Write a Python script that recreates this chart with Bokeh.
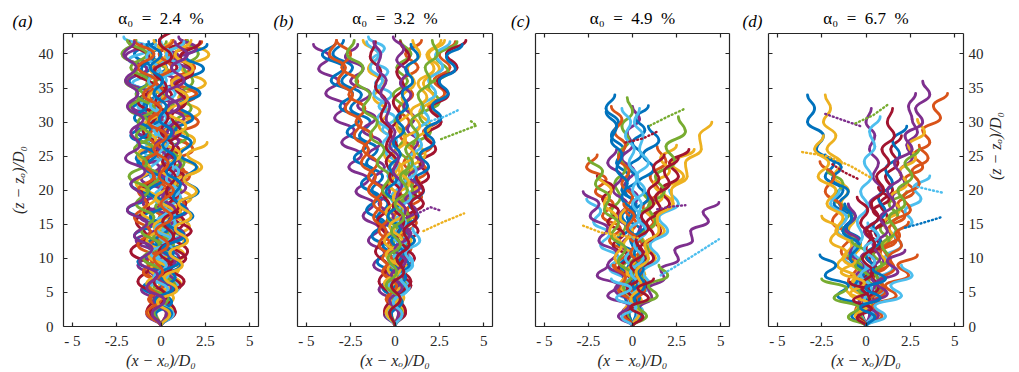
import math
from bokeh.plotting import figure
from bokeh.layouts import row, column
from bokeh.models import Range1d, FixedTicker, LinearAxis, ColumnDataSource
from bokeh.core.properties import value
from bokeh.embed import file_html
from bokeh.resources import INLINE

# MATLAB default line colour order
COLORS = ["#0072BD", "#D95319", "#EDB120", "#7E2F8E", "#77AC30", "#4DBEEE", "#A2142F"]

X_TICKS = [-5, -2.5, 0, 2.5, 5]
X_TICK_TEXT = {-5: "- 5", -2.5: "-2.5", 0: "0", 2.5: "2.5", 5: "5"}
Z_TICKS = [0, 5, 10, 15, 20, 25, 30, 35, 40]
VOID_FRACTION = ["2.4", "3.2", "4.9", "6.7"]
PANEL_TAGS = ["(a)", "(b)", "(c)", "(d)"]

# Bubble tracks: (height of first turning point, vertical spacing of turning points,
# lateral positions (x - x_o)/D_0 at successive turning points of the zig-zag)
tracks_a = [
    (0, 2.0, [0, .5, -.4, .7, -.5, .4, -.8, .3, -1.0, .1, -1.2, 0, -1.3, -.2, -1.7, -.4, -1.6, -.3, -1.8, -.6, -1.5, -.3]),
    (0, 1.9, [0, -.5, .4, -.7, .3, -.8, .6, -.4, .9, -.3, 1.0, -.1, 1.3, 0, 1.5, .3, 1.6, .4, 2.0, .6, 1.9, .7, 2.3]),
    (0, 2.1, [0, .7, -.1, 1.1, .1, 1.3, .3, 1.6, .4, 1.7, .6, 2.1, .9, 1.9, .7, 2.2, 1.0, 2.5, 1.2, 2.7, 1.4]),
    (0, 1.8, [0, -.8, -.1, -1.1, -.3, -1.3, -.4, -1.4, -.3, -1.2, 0, -1.0, .1, -.9, .3, -.7, .4, -.6, .7, -.4, .9, -.3, 1.0, -.1]),
    (0, 2.2, [0, .4, -.6, .3, -.7, .6, -.4, .7, -.3, 1.0, -.1, 1.1, .1, .9, -.3, .7, -.6, .4, -.7, .3]),
    (0, 1.7, [0, -.4, .6, -.3, .8, -.1, 1.0, .1, 1.1, -.1, .9, -.4, .7, -.6, .4, -.9, .3, -1.1, .1, -1.3, 0, -1.6, -.3, -1.8, -.6, -2.1]),
    (0, 2.0, [0, .8, .1, 1.1, .3, 1.4, .6, 1.7, .7, 1.4, .4, 1.3, .1, 1.0, -.1, .7, -.4, .6, -.3, .9, -.1, 1.2]),
    (0, 1.9, [0, -.7, .3, -1.0, .1, -1.3, -.1, -1.5, -.4, -1.9, -.7, -1.7, -.6, -1.4, -.3, -1.3, -.1, -1.0, .1, -.7, .3, -.6, .6]),
    (0, 2.0, [0, .3, -.7, .1, -.8, .4, -.6, .8, -.1, 1.3, .3, 1.6, .6, 1.8, .8, 2.1, 1.0, 2.0, .7, 1.7, .4, 1.4]),
    (0, 2.1, [0, -.3, .7, -.1, 1.0, .3, 1.3, .4, 1.1, .1, .8, -.1, .6, -.4, .3, -.7, .1, -.8, .3, -.6, .6]),
    (0, 1.8, [0, .6, -.3, .8, -.1, .7, -.4, .6, -.7, .3, -1.0, .1, -1.1, -.1, -1.3, -.3, -1.4, -.6, -1.7, -.7, -1.9, -.8, -2.0, -1.1]),
    (0, 2.0, [0, -.6, .1, -.4, .4, -.3, .7, 0, .8, .1, 1.1, .4, 1.3, .6, 1.5, .8, 1.7, 1.1, 1.8, 1.3, 2.1, 1.5]),
    (0, 1.9, [0, .7, 0, 1.0, .3, .8, .1, .6, -.3, .4, -.4, .1, -.7, -.1, -.8, -.3, -.6, 0, -.4, .3, -.1, .6, 0]),
    (0, 2.2, [0, -.8, -.3, -1.3, -.6, -1.7, -.8, -1.4, -.7, -1.1, -.4, -.8, -.1, -1.0, -.3, -1.3, -.4, -1.5, -.7, -1.8]),
    (0, 1.8, [0, .4, -.4, .8, 0, 1.1, .3, 1.4, .7, 1.8, 1.0, 2.1, 1.3, 2.0, 1.1, 1.7, .8, 1.8, 1.0, 2.2, 1.3, 2.4, 1.4, 2.6]),
    (0, 2.0, [0, -.4, .3, -.7, .1, -.6, .4, -.3, .6, -.1, .4, -.4, .3, -.7, 0, -.8, -.1, -.7, .1, -.4, .3, -.1]),
    (0, 2.1, [0, .7, -.3, .6, -.6, .3, -.8, 0, -1.1, -.3, -1.4, -.6, -1.3, -.3, -1.0, -.1, -.7, .1, -.6, .3, -.4]),
    (0, 1.7, [0, -.6, .4, -.3, .7, 0, 1.0, .3, 1.3, .6, 1.5, .8, 1.4, .6, 1.1, .3, 1.0, .1, 1.3, .4, 1.4, .7, 1.7, .8, 2.0, 1.0]),
    (0, 2.0, [0, .6, -.1, .8, .1, .6, -.1, .4, -.6, .1, -.8, -.1, -1.0, -.4, -1.4, -.7, -1.8, -1.0, -2.0, -1.3, -2.2, -1.4]),
    (0, 1.9, [0, -.7, .1, -.6, .4, -.4, .6, -.1, .8, .3, 1.1, .4, 1.0, .1, .7, -.1, .6, -.3, .8, 0, 1.1, .3, 1.3]),
    (0, 2.2, [0, .8, .3, 1.3, .4, 1.5, .7, 1.3, .4, 1.0, .1, .8, .3, 1.1, .6, 1.4, .8, 1.8, 1.1, 2.2]),
    (0, 1.8, [0, -.3, .6, -.1, .8, .1, .7, -.3, .4, -.6, .3, -.7, .1, -1.0, -.3, -1.3, -.6, -1.5, -.8, -1.4, -.7, -1.1, -.4, -.8]),
    (0, 2.0, [0, .4, -.6, .1, -1.0, -.3, -1.3, -.6, -1.5, -.8, -1.3, -.4, -1.0, -.1, -.7, .1, -.4, .3, -.3, .6, -.1, .7]),
    (0, 2.1, [0, -.7, .3, -.8, .4, -.7, .6, -.4, .7, -.3, .8, 0, 1.1, .1, 1.4, .4, 1.5, .6, 1.8, .8, 1.7]),
    (0, 1.9, [0, .3, -.4, .6, -.3, .8, 0, 1.1, .4, .8, .1, .6, -.1, .4, -.3, .7, 0, 1.0, .3, 1.3, .6, 1.5, .8]),
    (0, 2.0, [0, -.4, .4, -.7, .1, -1.0, -.1, -1.1, -.4, -1.4, -.7, -1.8, -.8, -1.5, -.6, -1.3, -.4, -1.4, -.7, -1.7, -.8, -1.9]),
    (0, 1.8, [0, .7, 0, .4, -.4, .3, -.6, .6, -.3, .8, 0, 1.0, .3, .7, -.1, .4, -.4, .3, -.6, 0, -.7, -.1, -.8, -.3]),
    (0, 2.2, [0, -.6, .3, -.4, .6, -.1, .7, .1, 1.0, .3, .8, .1, .7, 0, .4, -.3, .3, -.4, .6, -.1, .8]),
    (0, 1.9, [0, .6, -.3, .7, -.1, 1.0, .1, 1.3, .4, 1.4, .7, 1.1, .3, .8, .1, .6, -.1, .3, -.4, .1, -.6, 0, -.7]),
    (0, 2.0, [0, -.8, 0, -.7, .1, -.4, .4, -.3, .6, 0, .7, -.1, .4, -.4, .3, -.7, 0, -1.0, -.3, -1.3, -.4, -1.5]),
    (0, 1.8, [0, .5, -.2, .9, .2, 1.2, .5, 1.5, .8, 1.7, 1.0, 2.0, 1.3, 2.3, 1.5, 2.6]),
    (0, 1.9, [0, -.5, .2, -.8, -.2, -1.2, -.5, -1.5, -.8, -1.9, -1.0, -1.7, -.9, -2.0, -1.2, -1.7, -1.0, -1.9, -1.3, -2.0, -1.4, -2.1, -1.5]),
]

tracks_b = [
    (0, 2.0, [0, .4, -.3, .5, -.4, .2, -.7, -.1, -1.0, -.4, -1.3, -.7, -1.6, -1.0, -2.0, -1.4, -2.5, -1.9, -3.0, -2.4, -3.5, -2.9]),
    (0, 1.9, [0, -.4, .3, -.2, .6, .1, .9, .4, 1.2, .7, 1.5, 1.0, 1.8, 1.3, 2.1, 1.6, 2.5, 1.9, 2.8, 2.2, 3.1, 2.5, 3.4]),
    (0, 2.1, [0, .5, -.1, .6, 0, .7, .1, .5, -.1, .3, -.4, .1, -.6, -.1, -.9, -.4, -1.2, -.6, -1.5, -.9, -1.8]),
    (0, 1.8, [0, -.6, -.1, -.9, -.3, -1.2, -.6, -1.5, -.9, -1.8, -1.2, -2.2, -1.5, -2.6, -1.9, -3.0, -2.3, -3.4, -2.8, -3.9, -3.2, -4.3, -3.7, -4.6]),
    (0, 2.2, [0, .3, -.4, .4, -.2, .6, 0, .9, .3, 1.2, .6, 1.6, 1.0, 2.0, 1.4, 2.5, 1.9, 3.0, 2.3, 3.5]),
    (0, 1.7, [0, -.3, .4, -.1, .6, .1, .8, .3, .6, 0, .4, -.2, .3, -.4, .2, -.5, .1, -.7, 0, -.9, -.2, -1.1, -.4, -1.3, -.6, -1.5]),
    (0, 2.0, [0, .6, .1, .9, .3, 1.1, .5, 1.3, .7, 1.6, 1.0, 1.9, 1.4, 2.3, 1.7, 2.6, 2.0, 3.0, 2.4, 3.5, 2.9, 4.0]),
    (0, 1.9, [0, -.5, .2, -.7, 0, -1.0, -.3, -1.3, -.6, -1.6, -.9, -1.9, -1.2, -2.3, -1.6, -2.7, -2.0, -3.1, -2.4, -3.6, -2.9, -4.1, -3.3]),
    (0, 2.0, [0, .2, -.5, .1, -.6, .3, -.4, .6, -.1, .9, .2, 1.2, .5, 1.0, .3, .8, .2, 1.0, .4, 1.3, .6, 1.5]),
    (0, 2.1, [0, -.2, .5, -.1, .7, .2, .9, .4, 1.2, .6, 1.4, .9, 1.7, 1.2, 2.0, 1.4, 2.2, 1.6, 2.5, 1.9, 2.8]),
    (0, 1.8, [0, .4, -.2, .6, -.1, .4, -.3, .2, -.6, -.1, -.9, -.3, -1.2, -.6, -1.5, -.8, -1.8, -1.1, -2.1, -1.4, -2.5, -1.8, -2.8, -2.1]),
    (0, 2.0, [0, -.4, .1, -.3, .4, -.1, .6, .1, .8, .3, 1.0, .5, .8, .2, .6, 0, .5, -.1, .7, .1, .9, .3]),
    (0, 1.9, [0, .5, 0, .8, .3, 1.0, .4, .8, .1, .5, -.2, .3, -.4, 0, -.7, -.3, -1.0, -.5, -1.2, -.7, -1.4, -.9, -1.6]),
    (0, 2.2, [0, -.6, -.2, -.9, -.4, -1.1, -.5, -1.0, -.3, -.7, -.1, -.5, .1, -.3, .3, -.1, .5, .1, .8, .3]),
    (0, 1.8, [0, .3, -.3, .6, 0, .8, .2, 1.1, .5, 1.3, .8, 1.6, 1.1, 1.9, 1.4, 2.2, 1.7, 2.6, 2.1, 3.0, 2.5, 3.4, 2.9, 3.8]),
    (0, 2.0, [0, -.3, .2, -.5, .1, -.7, -.2, -.9, -.4, -1.2, -.7, -1.5, -1.0, -1.8, -1.3, -2.2, -1.7, -2.6, -2.1, -3.0, -2.5, -3.3]),
    (0, 2.1, [0, .5, -.2, .4, -.4, .2, -.6, 0, -.5, .2, -.3, .4, -.1, .6, .1, .8, .4, 1.1, .7, 1.4, 1.0]),
    (0, 1.7, [0, -.4, .3, -.2, .5, 0, .7, .2, .9, .4, 1.2, .6, 1.4, .8, 1.6, 1.0, 1.3, .7, 1.1, .5, .9, .3, .7, .1, .5, -.1]),
    (0, 2.0, [0, .4, -.1, .6, .1, .4, -.1, .2, -.4, 0, -.7, -.3, -1.0, -.6, -1.4, -1.0, -1.8, -1.4, -2.2, -1.8, -2.7, -2.3]),
    (0, 1.9, [0, -.5, .1, -.4, .3, -.3, .4, -.1, .6, .2, .9, .5, 1.2, .8, 1.5, 1.1, 1.9, 1.5, 2.3, 1.9, 2.7, 2.3, 3.1]),
    (0, 2.2, [0, .6, .2, .9, .3, .7, .1, .5, -.1, .3, -.3, .1, -.5, -.2, -.8, -.5, -1.1, -.8, -1.4, -1.1]),
    (0, 1.8, [0, -.2, .4, -.1, .6, .1, .5, -.2, .3, -.4, .2, -.5, .1, -.3, .3, -.1, .5, .1, .7, .4, 1.0, .6, 1.3, .9]),
    (0, 2.0, [0, .3, -.4, .1, -.7, -.2, -.9, -.5, -1.2, -.8, -1.5, -1.1, -1.9, -1.5, -2.3, -1.9, -2.8, -2.4, -3.2, -2.8, -3.7, -3.3]),
    (0, 2.1, [0, -.5, .2, -.6, .3, -.5, .4, -.3, .6, -.1, .8, .2, 1.1, .5, 1.4, .9, 1.8, 1.3, 2.2, 1.8, 2.6]),
    (0, 1.9, [0, .2, -.3, .4, -.2, .6, 0, .8, .3, .6, .1, .4, -.1, .2, -.3, 0, -.5, -.3, -.8, -.5, -1.0, -.8, -1.2]),
    (0, 2.0, [0, -.3, .3, -.5, .1, -.4, .3, -.2, .5, 0, .7, .3, 1.0, .6, 1.3, .9, 1.6, 1.3, 2.0, 1.7, 2.4, 2.1]),
    (0, 1.8, [0, .4, -.1, .7, .3, 1.0, .6, 1.4, 1.0]),
    (0, 2.0, [0, -.3, .3, -.2, .5, .1, .8, .5, 1.2, .9, 1.6, 1.2]),
]

tracks_c = [
    (0, 2.0, [0, .4, -.3, .5, -.2, .7, 0, .5, -.3, .2, -.6, -.2, -.9, -.5, -1.2, -.8, -1.5, -1.0]),
    (0, 1.8, [0, -.5, .2, -.7, .1, -1.0, -.3, -1.3, -.7, -1.7, -1.1, -2.1, -1.5, -2.6, -2.0]),
    (0, 2.0, [0, .6, .1, .9, .4, 1.3, .8, 1.8, 1.2, 2.3, 1.7, 2.9, 2.2, 3.5]),
    (0, 1.9, [0, -.3, .4, -.2, .6, 0, .8, .3, .5, -.1, .3, -.4, .1, -.6, 0, -.3, .4, 0]),
    (0, 2.1, [0, .3, -.4, .2, -.6, -.1, -.9, -.4, -1.2, -.7, -1.0, -.4, -.8, -.2, -.6, 0, -.3]),
    (0, 1.7, [0, -.6, -.1, -.9, -.4, -1.3, -.8, -1.8, -1.3, -2.2, -1.8, -2.6]),
    (0, 2.0, [0, .5, 0, .8, .3, 1.2, .7, 1.6, 1.1, 2.1, 1.6, 2.6, 2.1, 3.2]),
    (0, 1.8, [0, -.4, .3, -.5, .2, -.7, 0, -.9, -.2, -.6, .1, -.4, .3, -.2, .5, 0, .7, .2, .9]),
    (0, 2.2, [0, .4, -.2, .6, 0, .9, .3, 1.2, .6, 1.5, 1.0, 1.9, 1.4]),
    (0, 1.9, [0, -.2, .5, 0, .7, .2, 1.0, .5, 1.3, .8, 1.7, 1.2, 2.1, 1.6, 2.5]),
    (0, 2.0, [0, .3, -.3, .4, -.4, .2, -.6, 0, -.8, -.3, -1.1, -.6, -1.4, -.9]),
    (0, 1.8, [0, -.5, .1, -.4, .3, -.2, .5, 0, .7, .3, 1.0, .6]),
    (0, 2.0, [0, .6, .2, 1.0, .6, 1.5, 1.0, 2.0, 1.5, 2.6, 2.1]),
    (0, 1.7, [0, -.4, .2, -.6, 0, -.8, -.2, -1.1, -.5, -1.4, -.8, -1.7, -1.1, -2.0]),
    (0, 2.1, [0, .2, -.4, .3, -.3, .5, -.1, .7, .1, .9, .3, 1.2, .6, 1.5, .9]),
    (0, 1.9, [0, -.3, .3, -.1, .5, .1, .4, -.2, .2, -.4, 0, -.6, -.2, -.8, -.4, -1.0, -.6, -1.2]),
    (0, 2.0, [0, .5, -.1, .4, -.3, .2, -.5, 0, -.7, -.3]),
    (0, 1.8, [0, -.6, -.2, -1.0, -.5, -1.4, -.9, -1.9, -1.4, -2.4, -1.9, -2.8]),
    (0, 2.2, [0, .4, 0, .6, .2, .9, .5, 1.3, .9, 1.8, 1.3, 2.4, 1.9, 3.0, 2.6]),
    (0, 2.0, [0, -.4, .1, -.5, .2, -.4, .3, -.2, .5, 0, .7, .2, .9, .4, .6, .1, .4]),
    (0, 1.9, [0, .3, -.2, .5, 0, .8, .4, 1.2, .8, 1.6, 1.3, 2.1, 1.8, 2.6]),
    (0, 2.1, [0, -.2, .4, 0, .6, .1, .3, -.3, 0, -.6, -.3, -.9, -.6, -1.2, -.9, -1.5]),
    (0, 1.8, [0, .5, .1, .7, .2, .5, -.1, .3, -.3, .1, -.5]),
    (0, 2.0, [0, -.5, -.1, -.7, -.3, -1.0, -.6, -1.3, -.9, -1.6, -1.2, -1.9]),
    (0, 1.4, [0, .5, .4, 1.1, .9, 1.8, 1.6, 2.6, 2.4, 3.4, 3.3, 4.3, 4.0, 4.9]),
    (0, 1.9, [0, -.3, .2, -.5, 0, -.8, -.4, -1.2, -.8, -1.6, -1.3, -2.1, -1.7, -2.5]),
    (0, 2.0, [0, .3, -.2, .4, -.1, .6, .1, .8, .3, .5, 0, .3, -.2, .1, -.4, -.1, -.6]),
    (0, 1.8, [0, -.4, .2, -.3, .4, -.1, .6, .2, .9, .5, 1.2, .9, 1.5, 1.2, 1.8]),
    (0, 2.0, [0, .5, .1, .7, .3, .9]),
    (0, 1.8, [0, -.5, -.1, -.8, -.4, -1.1]),
    (0, 2.0, [0, .4, -.1, .5, .2, .9, .7, 1.5, 1.4, 2.3, 2.2, 3.1, 3.0, 3.9, 3.8, 4.5]),
    (0, 1.5, [0, -.8, -.2, -1.4, -.8, -2.0, -1.4]),
    (0, 1.5, [0, .8, .3, 1.4, .9, 2.0, 1.5]),
    (0, 1.4, [0, -.6, .2, -.9, -.1, -1.2]),
    (0, 1.4, [0, .6, -.1, .9, .3, 1.2]),
]

tracks_d = [
    (0, 2.0, [0, -.4, .2, -.6, 0, -.9, -.4, -1.3, -.8, -1.8, -1.3, -2.3, -1.8, -2.8, -2.4, -3.3, -2.9, -3.3]),
    (0, 1.8, [0, .5, .1, .8, .4, 1.2, .8, 1.7, 1.3, 2.2, 1.8, 2.7, 2.2, 3.2, 2.7, 3.6, 3.2, 4.2, 3.8, 4.6]),
    (0, 2.0, [0, -.3, .3, -.5, 0, -.7, -.3, -1.0, -.6, -1.4, -1.0, -1.8, -1.4, -2.2, -1.7, -2.4, -2.0, -2.3]),
    (0, 1.9, [0, .4, -.1, .7, .3, 1.0, .6, 1.4, 1.0, 1.8, 1.5, 2.2, 1.9, 2.6, 2.3, 2.9, 2.6, 2.4, 2.8]),
    (0, 2.1, [0, -.5, .1, -.7, -.1, -1.0, -.5, -1.4, -.9, -1.8, -1.3, -2.2]),
    (0, 1.7, [0, .6, .2, 1.0, .6, 1.5, 1.1, 2.0, 1.6, 2.6, 2.2, 3.1, 2.7, 3.6]),
    (0, 2.0, [0, -.2, .4, -.1, .6, .2, .9, .5, 1.2, .8, 1.5, 1.1, 1.8, 1.4, 2.0]),
    (0, 1.8, [0, .3, -.3, .2, -.5, 0, -.8, -.3, -1.1, -.6, -1.5, -1.0, -1.9, -1.4, -2.3]),
    (0, 2.2, [0, -.6, -.2, -1.0, -.5, -1.4, -.9, -1.9, -1.4, -2.3, -1.8, -2.6]),
    (0, 1.9, [0, .5, 0, .8, .3, 1.1, .6, 1.5, 1.0, 1.9, 1.4, 2.3, 1.9, 2.8, 2.4, 3.3, 2.9]),
    (0, 2.0, [0, -.4, .2, -.5, .3, -.3, .5, -.1, .7, .2, .9, .4, .7, .2, .5, 0, .3]),
    (0, 1.8, [0, .4, -.2, .6, 0, .9, .4, 1.3, .8, 1.8, 1.3, 2.3]),
    (0, 2.0, [0, -.5, 0, -.8, -.3, -1.2, -.7, -1.6, -1.1, -2.0, -1.5]),
    (0, 1.7, [0, .3, -.3, .4, -.2, .6, 0, .8, .2, 1.0, .4, 1.3, .7]),
    (0, 2.1, [0, -.3, .3, -.2, .5, 0, .8, .4, 1.1, .7, 1.5, 1.1, 1.9, 1.5, 2.3]),
    (0, 1.9, [0, .6, .2, 1.0, .6, 1.4, 1.0, 1.9, 1.5, 2.5, 2.1, 3.0, 2.6, 3.5, 3.0]),
    (0, 2.0, [0, -.6, -.1, -.9, -.4, -1.3, -.8, -1.7, -1.3, -2.2, -1.7, -2.7, -2.1, -2.9, -2.4]),
    (0, 1.8, [0, .2, -.4, .1, -.6, -.1, -.9, -.4, -1.2, -.6, -1.0]),
    (0, 2.0, [0, .5, .1, .9, .5, 1.3, .9, 1.7, 1.3, 2.2, 1.8, 2.6, 2.2, 3.0]),
    (0, 2.2, [0, -.3, .2, -.5, 0, -.7, -.2, -.5, .1, -.3, .3, -.1, .5, .2, .8]),
    (0, 1.9, [0, .4, 0, .7, .3, .5, 0, .3, -.3, .1, -.5]),
    (0, 2.0, [0, -.4, .1, -.6, -.1, -.9, -.4, -1.3, -.8, -1.2]),
    (0, 1.7, [0, .6, .3, 1.1, .8, 1.6, 1.3, 2.0, 1.7, 2.4]),
    (0, 1.8, [0, -.6, -.2, -1.1, -.6, -1.6, -1.1, -2.0, -1.6, -2.5]),
    (0, 2.0, [0, .3, -.2, .5, .1, .8, .4, 1.2, .8, 1.6, 1.2, 2.0, 1.6, 2.6, 2.2, 3.2, 2.8, 3.6, 3.2]),
    (0, 1.8, [0, -.3, .3, -.4, .2, -.6, 0, -.8]),
    (0, 1.9, [0, .4, -.1, .3, -.3, .5, -.1, .7, .1]),
    (0, 2.0, [0, -.5, .2, -.3, .4, -.2, .5, 0, .7, .3, 1.0, .6, 1.3, .9, 1.6, 1.2, 1.5]),
    (0, 1.5, [0, -.8, -.3, -1.6, -1.0, -2.3, -1.7, -2.6]),
    (0, 1.5, [0, .9, .4, 1.7, 1.1, 2.4, 1.8, 2.9]),
    (0, 1.6, [0, -.6, .2, -.9, -.1, -1.4, -.6]),
    (0, 1.6, [0, .7, .1, 1.2, .6, 1.8, 1.2, 2.2]),
    (0, 1.4, [0, -1.0, -.4, -1.8, -1.1, -2.5]),
    (0, 1.5, [0, 1.1, .5, 2.0, 1.4, 2.6, 2.0]),
    (0, 1.3, [0, -.5, .3, -.7, .2, -.9]),
    (0, 1.4, [0, .5, -.3, .8, 0, 1.1, .4]),
]

# Fast, sparsely sampled stretches of tracks: (x positions, z positions)
sparse_b = [
    ([1.6, 2.6, 3.9], [14.0, 15.2, 16.6]),
    ([1.2, 2.0, 2.6], [16.5, 17.5, 17.0]),
    ([2.6, 3.6, 4.6, 4.2], [27.5, 28.5, 29.5, 30.3]),
    ([1.8, 2.8, 3.6], [30.0, 30.8, 31.8]),
]
sparse_c = [
    ([-2.8, -1.8, -0.8, 0.3], [14.8, 13.8, 13.4, 13.0]),
    ([1.4, 2.2, 3.0], [17.2, 17.6, 17.8]),
    ([1.0, 2.0, 3.0], [29.5, 30.8, 32.0]),
    ([1.6, 3.2, 4.9], [7.5, 10.0, 12.8]),
    ([-0.4, 0.6, 1.4], [27.0, 27.6, 28.6]),
]
sparse_d = [
    ([-3.6, -2.2, -0.9, 0.3], [25.6, 25.0, 23.6, 21.8]),
    ([-2.3, -1.2, -0.2], [31.2, 30.2, 29.3]),
    ([1.2, 0.4, -0.6], [32.5, 31.0, 29.8]),
    ([2.9, 3.7, 4.4], [20.5, 20.0, 19.6]),
    ([-1.9, -1.2, -0.4], [23.8, 22.6, 21.6]),
    ([2.2, 3.2, 4.2], [14.5, 15.2, 16.0]),
]

FONT = "'Liberation Serif', serif"
INK = "#262626"

# page geometry (pixels)
HEAD_H = 31
PANEL_H = 341
FRAME_W = [195, 195, 194, 195]
BORDER_L = [63, 22, 26, 22]
BORDER_R = [17, 17, 17, 56]
TAG_OFFSET = [-41, -14, -15, -16]   # tag centre relative to frame left edge
TITLE_Y = 18
TAG_Y = 21


def bezier_source(tracks):
    """Join successive turning points with S-shaped cubic curves."""
    d = dict(x0=[], y0=[], x1=[], y1=[], cx0=[], cy0=[], cx1=[], cy1=[], color=[])
    for i, (z0, dz, xs) in enumerate(tracks):
        col = COLORS[i % len(COLORS)]
        for k in range(len(xs) - 1):
            za = z0 + k * dz
            zb = za + dz
            d["x0"].append(xs[k]); d["y0"].append(za)
            d["x1"].append(xs[k + 1]); d["y1"].append(zb)
            d["cx0"].append(xs[k]); d["cy0"].append(za + 0.5 * dz)
            d["cx1"].append(xs[k + 1]); d["cy1"].append(zb - 0.5 * dz)
            d["color"].append(col)
    return ColumnDataSource(d)


def frame_axis(ticks, show_labels):
    ax = LinearAxis(ticker=FixedTicker(ticks=ticks))
    ax.major_tick_in = 4
    ax.major_tick_out = 0
    ax.minor_tick_line_color = None
    ax.axis_line_color = INK
    ax.axis_line_width = 1.2
    ax.major_tick_line_color = INK
    ax.major_tick_line_width = 1.2
    ax.major_label_text_font = FONT
    ax.major_label_text_color = INK
    if show_labels:
        ax.major_label_text_font_size = "15px"
    else:
        ax.major_label_text_font_size = "0px"
        ax.major_label_text_color = None
        ax.major_label_standoff = 0
    return ax


def make_panel(idx, tracks, sparse, left_labels, right_labels):
    width = BORDER_L[idx] + FRAME_W[idx] + BORDER_R[idx]
    p = figure(width=width, height=PANEL_H, x_range=Range1d(-5.5, 5.5), y_range=Range1d(0, 43),
               output_backend="svg", toolbar_location=None,
               x_axis_location=None, y_axis_location=None,
               min_border_left=BORDER_L[idx], min_border_right=BORDER_R[idx],
               min_border_top=2, min_border_bottom=46)
    p.grid.visible = False
    p.outline_line_color = None

    bottom = frame_axis(X_TICKS, True)
    bottom.major_label_overrides = X_TICK_TEXT
    bottom.major_label_standoff = 6
    bottom.axis_label = "(x − xₒ)/D₀"
    bottom.axis_label_text_font = FONT
    bottom.axis_label_text_font_size = "16px"
    bottom.axis_label_text_color = INK
    bottom.axis_label_standoff = 0
    p.add_layout(bottom, "below")
    p.add_layout(frame_axis(X_TICKS, False), "above")

    left = frame_axis(Z_TICKS, left_labels)
    right = frame_axis(Z_TICKS, right_labels)
    for ax, show in ((left, left_labels), (right, right_labels)):
        if show:
            ax.axis_label = "(z − zₒ)/D₀"
            ax.axis_label_text_font = FONT
            ax.axis_label_text_font_size = "16px"
            ax.axis_label_text_color = INK
            ax.axis_label_standoff = 9
    if left_labels:
        left.major_label_standoff = 10
    if right_labels:
        right.major_label_standoff = 5
        right.axis_label_orientation = math.pi / 2
    p.add_layout(left, "left")
    p.add_layout(right, "right")

    src = bezier_source(tracks)
    p.bezier(x0="x0", y0="y0", x1="x1", y1="y1", cx0="cx0", cy0="cy0", cx1="cx1", cy1="cy1",
             source=src, line_color="color", line_width=2.8, line_cap="round")

    if sparse:
        xs = [s[0] for s in sparse]
        zs = [s[1] for s in sparse]
        cols = [COLORS[(i + 2) % len(COLORS)] for i in range(len(sparse))]
        p.multi_line(xs, zs, line_color=cols, line_width=2.4, line_dash="1 3", line_cap="round")
    return p


panels = [
    make_panel(0, tracks_a, [], True, False),
    make_panel(1, tracks_b, sparse_b, False, False),
    make_panel(2, tracks_c, sparse_c, False, False),
    make_panel(3, tracks_d, sparse_d, False, True),
]
total_w = sum(BORDER_L) + sum(FRAME_W) + sum(BORDER_R)

# header strip carrying the panel letters and the void-fraction titles
head = figure(width=total_w, height=HEAD_H, x_range=Range1d(0, total_w), y_range=Range1d(HEAD_H, 0),
              output_backend="svg", toolbar_location=None,
              x_axis_location=None, y_axis_location=None, min_border=0)
head.grid.visible = False
head.outline_line_color = None
frame_left = []
acc = 0
for i in range(4):
    frame_left.append(acc + BORDER_L[i])
    acc += BORDER_L[i] + FRAME_W[i] + BORDER_R[i]
head.text(x=[frame_left[i] + FRAME_W[i] / 2 for i in range(4)], y=[TITLE_Y] * 4,
          text=[f"α₀\u2002=\u2002{v}\u2002%" for v in VOID_FRACTION],
          text_align="center", text_baseline="middle", text_font=value(FONT),
          text_font_size="17px", text_color="black")
head.text(x=[frame_left[i] + TAG_OFFSET[i] for i in range(4)], y=[TAG_Y] * 4, text=PANEL_TAGS,
          text_align="center", text_baseline="middle", text_font=value(FONT),
          text_font_size="17px", text_font_style="italic", text_color="black")

layout = column(head, row(*panels))
open("out.html", "w").write(file_html(layout, INLINE))
